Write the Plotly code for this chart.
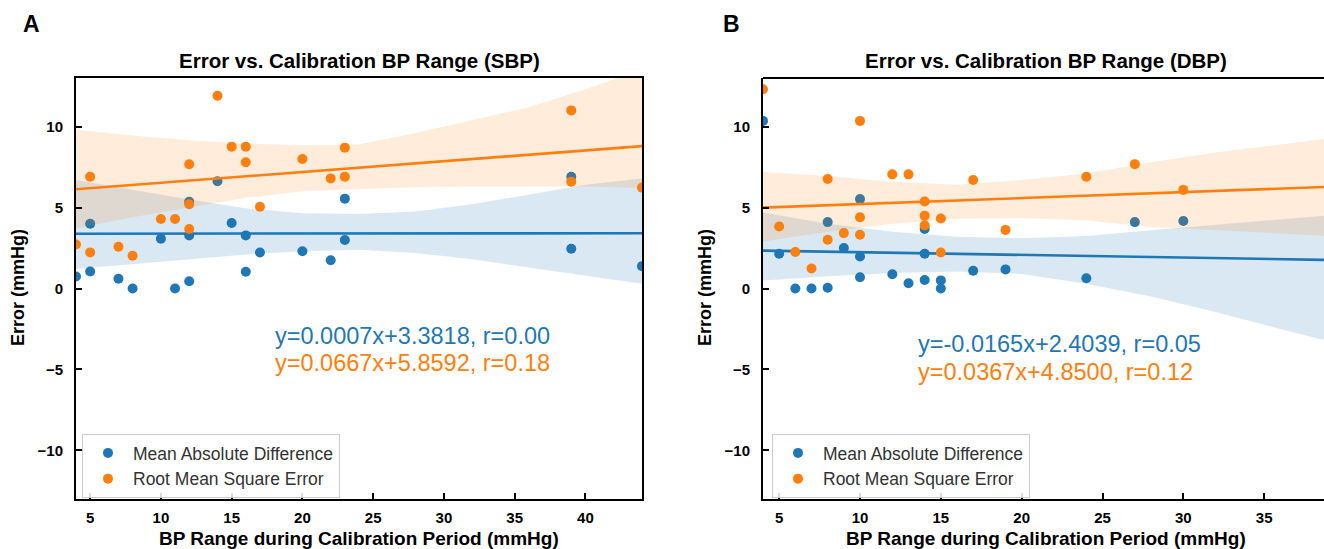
import plotly.graph_objects as go

# ---------------- data ----------------
# Panel A (SBP)
a_x_mad = [4, 5, 5, 7, 8, 10, 11, 12, 12, 12, 14, 15, 16, 16, 17, 20, 22, 23, 23, 39, 39, 44]
a_y_mad = [0.74, 4.0, 1.05, 0.6, 0.0, 3.08, 0.0, 0.45, 3.28, 5.35, 6.62, 4.05, 3.28, 1.03, 2.22, 2.3, 1.74, 5.55, 3.0, 6.9, 2.46, 1.38]
a_x_rmse = [4, 5, 5, 7, 8, 10, 11, 12, 12, 12, 14, 15, 16, 16, 17, 20, 22, 23, 23, 39, 39, 44]
a_y_rmse = [2.72, 6.9, 2.23, 2.58, 2.02, 4.29, 4.29, 7.67, 5.2, 3.67, 11.9, 8.76, 8.76, 7.8, 5.05, 8.0, 6.8, 8.7, 6.9, 11.0, 6.6, 6.23]
a_fit_mad = (0.0007, 3.3818)
a_fit_rmse = (0.0667, 5.8592)
a_band_x = [4, 8, 12, 16, 20, 24, 28, 32, 36, 40, 44]
a_mad_lo = [1.2, 1.5, 1.8, 2.1, 2.3, 2.4, 2.2, 1.8, 1.3, 0.8, 0.3]
a_mad_hi = [6.7, 6.1, 5.5, 4.95, 4.65, 4.6, 4.75, 5.2, 5.8, 6.4, 6.8]
a_rmse_lo = [3.7, 4.4, 5.0, 5.6, 6.0, 6.15, 6.25, 6.3, 6.3, 6.3, 6.2]
a_rmse_hi = [9.8, 9.45, 9.15, 8.95, 8.85, 8.9, 9.6, 10.4, 11.2, 12.3, 13.5]

# Panel B (DBP)
b_x_mad = [4, 5, 6, 7, 8, 8, 9, 10, 10, 10, 12, 13, 14, 14, 14, 15, 15, 17, 19, 24, 27, 30]
b_y_mad = [10.35, 2.15, 0.0, 0.0, 0.05, 4.1, 2.5, 5.52, 1.98, 0.7, 0.88, 0.32, 3.68, 2.15, 0.53, 0.5, 0.0, 1.1, 1.18, 0.63, 4.1, 4.17]
b_x_rmse = [4, 5, 6, 7, 8, 8, 9, 10, 10, 10, 12, 13, 14, 14, 14, 15, 15, 17, 19, 24, 27, 30]
b_y_rmse = [12.3, 3.83, 2.25, 1.24, 6.76, 3.01, 3.42, 10.35, 4.4, 3.32, 7.05, 7.05, 5.37, 4.5, 3.9, 4.32, 2.22, 6.7, 3.62, 6.9, 7.68, 6.09]
b_fit_mad = (-0.0165, 2.4039)
b_fit_rmse = (0.0367, 4.8500)
b_band_x = [4, 8, 12, 16, 20, 24, 28, 32, 36, 40]
b_mad_lo = [0.5, 0.75, 0.95, 1.05, 0.9, 0.3, -0.5, -1.45, -2.5, -3.5]
b_mad_hi = [4.7, 4.0, 3.5, 3.2, 3.1, 3.25, 3.6, 3.95, 4.3, 4.6]
b_rmse_lo = [2.9, 3.5, 4.0, 4.3, 4.35, 4.2, 3.8, 3.6, 3.4, 3.2]
b_rmse_hi = [7.2, 6.95, 6.6, 6.4, 6.7, 7.1, 7.8, 8.4, 8.9, 9.4]

series_names = ["Mean Absolute Difference", "Root Mean Square Error"]
panel_titles = ["Error vs. Calibration BP Range (SBP)", "Error vs. Calibration BP Range (DBP)"]
eq_a = ["y=0.0007x+3.3818, r=0.00", "y=0.0667x+5.8592, r=0.18"]
eq_b = ["y=-0.0165x+2.4039, r=0.05", "y=0.0367x+4.8500, r=0.12"]
x_title = "BP Range during Calibration Period (mmHg)"
y_title = "Error (mmHg)"
y_ticks = [-10, -5, 0, 5, 10]
a_xticks = [5, 10, 15, 20, 25, 30, 35, 40]
b_xticks = [5, 10, 15, 20, 25, 30, 35]
a_xrange = [4, 44]
b_xrange = [4, 38.7]
y_range = [-13, 13]

# ---------------- style ----------------
W, H = 1324, 549
BLUE = "#1f77b4"
ORANGE = "#ff7f0e"
BLUE_FILL = "rgba(31,119,180,0.17)"
ORANGE_FILL = "rgba(255,127,14,0.15)"
FONT = "Liberation Sans, Arial, sans-serif"

def px(v):
    return v / W

def py(v):
    return 1 - v / H

fig = go.Figure()

def add_panel(xa, ya, legend, xs, ys, fits, bx, bands, xr):
    cols = [BLUE, ORANGE]
    fills = [BLUE_FILL, ORANGE_FILL]
    for i in range(2):
        fig.add_trace(go.Scatter(
            x=xs[i], y=ys[i], mode="markers", name=series_names[i],
            marker=dict(color=cols[i], size=10, line=dict(width=0)),
            xaxis=xa, yaxis=ya, legend=legend, showlegend=True, cliponaxis=True))
        lo, hi = bands[i]
        fig.add_trace(go.Scatter(x=bx, y=lo, mode="lines", line=dict(width=0, color=cols[i]),
                                 xaxis=xa, yaxis=ya, showlegend=False, hoverinfo="skip"))
        fig.add_trace(go.Scatter(x=bx, y=hi, mode="lines", line=dict(width=0, color=cols[i]),
                                 fill="tonexty", fillcolor=fills[i],
                                 xaxis=xa, yaxis=ya, showlegend=False, hoverinfo="skip"))
        m, c = fits[i]
        lx = [xr[0], bx[-1]]
        fig.add_trace(go.Scatter(x=lx, y=[m * v + c for v in lx], mode="lines",
                                 line=dict(color=cols[i], width=2.6),
                                 xaxis=xa, yaxis=ya, showlegend=False, hoverinfo="skip"))

add_panel("x", "y", "legend", [a_x_mad, a_x_rmse], [a_y_mad, a_y_rmse],
          [a_fit_mad, a_fit_rmse], a_band_x,
          [(a_mad_lo, a_mad_hi), (a_rmse_lo, a_rmse_hi)], a_xrange)
add_panel("x2", "y2", "legend2", [b_x_mad, b_x_rmse], [b_y_mad, b_y_rmse],
          [b_fit_mad, b_fit_rmse], b_band_x,
          [(b_mad_lo, b_mad_hi), (b_rmse_lo, b_rmse_hi)], b_xrange)

ydom = [py(499), py(78)]
tickfont = dict(family=FONT, size=15, color="black", weight="bold")
axis_common = dict(showgrid=False, zeroline=False, showline=True, linecolor="black", linewidth=2,
                   ticks="inside", ticklen=6, tickwidth=2, tickcolor="black", tickfont=tickfont)

legend_common = dict(xanchor="left", yanchor="top", traceorder="normal",
                     bgcolor="rgba(255,255,255,0.85)", bordercolor="#cccccc", borderwidth=1,
                     font=dict(family=FONT, size=17.5, color="#333333"), tracegroupgap=0,
                     itemwidth=40)

fig.update_layout(
    width=W, height=H,
    margin=dict(l=0, r=0, t=0, b=0),
    paper_bgcolor="white", plot_bgcolor="white",
    font=dict(family=FONT),
    xaxis=dict(domain=[px(76), px(642)], range=a_xrange, tickvals=a_xticks, mirror=True,
               anchor="y", ticklabelstandoff=4, **axis_common),
    yaxis=dict(domain=ydom, range=y_range, tickvals=y_ticks, mirror=True, anchor="x",
               ticklabelstandoff=8, **axis_common),
    xaxis2=dict(domain=[px(763), 1.0], range=b_xrange, tickvals=b_xticks, anchor="y2",
                ticklabelstandoff=4, **axis_common),
    yaxis2=dict(domain=ydom, range=y_range, tickvals=y_ticks, anchor="x2",
                ticklabelstandoff=8, **axis_common),
    legend=dict(x=px(82), y=py(434), **legend_common),
    legend2=dict(x=px(772), y=py(434), **legend_common),
    showlegend=True,
)

# top spine for panel B (its right edge is cut off in the reference)
fig.add_shape(type="line", xref="x2 domain", yref="y2 domain", x0=0, x1=1, y0=1, y1=1,
              line=dict(color="black", width=2))

ann = []
bold = dict(family=FONT, color="black", weight="bold")
for cx, t, letter, lx in [(359, panel_titles[0], "A", 31), (1046, panel_titles[1], "B", 732)]:
    ann.append(dict(x=px(cx), y=py(60), text=t, showarrow=False, xref="paper", yref="paper",
                    xanchor="center", yanchor="middle", font=dict(size=20.5, **bold)))
    ann.append(dict(x=px(cx), y=py(538), text=x_title, showarrow=False, xref="paper", yref="paper",
                    xanchor="center", yanchor="middle", font=dict(size=19, **bold)))
    ann.append(dict(x=px(lx), y=py(24), text=letter, showarrow=False, xref="paper", yref="paper",
                    xanchor="center", yanchor="middle", font=dict(size=23, **bold)))
for lx in [18, 705]:
    ann.append(dict(x=px(lx), y=py(288), text=y_title, showarrow=False, xref="paper", yref="paper",
                    xanchor="center", yanchor="middle", textangle=-90, font=dict(size=18, **bold)))

eq_font = dict(family=FONT, size=23.5)
for (sx, ys_, texts) in [(273, (336, 363), eq_a), (916, (344, 372), eq_b)]:
    ann.append(dict(x=px(sx), y=py(ys_[0]), text=texts[0], showarrow=False, xref="paper", yref="paper",
                    xanchor="left", yanchor="middle", font=dict(color=BLUE, **eq_font)))
    ann.append(dict(x=px(sx), y=py(ys_[1]), text=texts[1], showarrow=False, xref="paper", yref="paper",
                    xanchor="left", yanchor="middle", font=dict(color=ORANGE, **eq_font)))
fig.update_layout(annotations=ann)

fig.write_html("out.html")
